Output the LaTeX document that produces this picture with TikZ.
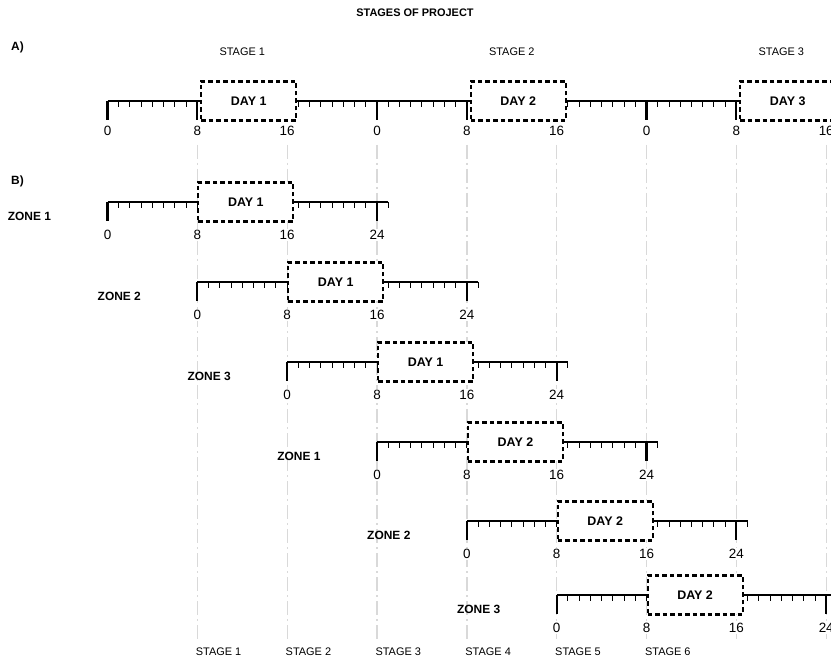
\documentclass[tikz,border=0pt]{standalone}
\usepackage{fontspec}
\setmainfont{Liberation Sans}
\usetikzlibrary{positioning}

\tikzset{
	axisline/.style={line width=1.7bp},
	majortick/.style={line width=2.2bp},
	minortick/.style={line width=1bp},
	daybox/.style={draw, line width=2.1bp, dash pattern=on 4.5bp off 3bp, fill=white,
		minimum width=95bp, minimum height=39bp, inner sep=0pt,
		font=\bfseries\fontsize{12.5}{14}\selectfont},
	hourlabel/.style={fill=white, inner sep=1bp, font=\fontsize{13.5}{15}\selectfont},
	zonelabel/.style={font=\bfseries\fontsize{12}{14}\selectfont},
	stagelabel/.style={font=\fontsize{11}{13}\selectfont},
	guideline/.style={gray!30, line width=1.3bp, dash pattern=on 14bp off 4bp on 2bp off 4bp},
}

\begin{document}
\begin{tikzpicture}[x=11.23bp, y=-1bp]
		\path[use as bounding box, fill=white] (-9.573,0) rectangle (64.425,662);
		
		%Title
		\node[font=\bfseries\fontsize{11}{13}\selectfont] (title) at (27.38,13) {STAGES OF PROJECT};
		\node[zonelabel, anchor=west, inner sep=0pt] (partA) at (-8.6,47) {A)};
		\node[zonelabel, anchor=west, inner sep=0pt] (partB) at (-8.6,181) {B)};
		
		% stage guides (dash dot, light gray)
		\foreach \k in {1,...,8}
		\draw[guideline] (8*\k,145) -- (8*\k,640);
		\foreach \k in {1,...,6}
		\node[stagelabel, anchor=west, inner sep=0pt] (stageB\k) at (8*\k-0.15,652) {STAGE \k};
		
		%A) one line for all zones
		\draw[axisline] (0,101) -- (64,101);
		\foreach \t in {1,...,63}
		\draw[minortick] (\t,101) -- (\t,107);
		\foreach \t in {0,8,...,64}
		\draw[majortick] (\t,101) -- (\t,120);
		\foreach \d in {1,2,3}
		\node[daybox, anchor=west] (dayA\d) at (24*\d-15.75,101) {DAY \d};
		\foreach \t/\n in {0/0,8/8,16/16,24/0,32/8,40/16,48/0,56/8,64/16}
		\node[hourlabel] (hA-\t) at (\t,131) {\n};
		\foreach \h/\n in {12/1,36/2,60/3}
		\node[stagelabel] (stageA\n) at (\h,52) {STAGE \n};
		
		%B) one line per zone, shifted by 8 hours
		\foreach \s/\y/\z/\d [count=\i] in {0/202/1/1,8/282/2/1,16/362/3/1,24/442/1/2,32/521/2/2,40/595/3/2}{
			\draw[axisline] (\s,\y) -- (\s+25,\y);
			\foreach \t in {1,...,25}
			\draw[minortick] (\s+\t,\y) -- (\s+\t,\y+6);
			\foreach \t in {0,24}
			\draw[majortick] (\s+\t,\y) -- (\s+\t,\y+19);
			\node[daybox, anchor=west] (day\i) at (\s+8,\y) {DAY \d};
			\foreach \t in {0,8,16,24}
			\node[hourlabel] (h\i-\t) at (\s+\t,\y+33) {\t};
			\node[zonelabel] (zone\i) at (\s-6.95,\y+14) {ZONE \z};
		}
	\end{tikzpicture}
\end{document}
